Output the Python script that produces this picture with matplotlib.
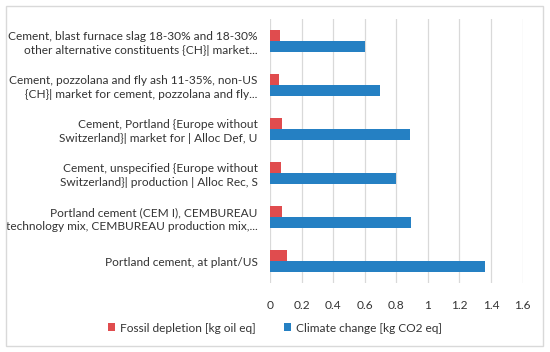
import matplotlib.pyplot as plt
import numpy as np
from matplotlib.patches import Rectangle

plt.rcParams['font.family'] = ['Lato', 'DejaVu Sans']

categories = [
    "Cement, blast furnace slag 18-30% and 18-30%\nother alternative constituents {CH}| market...",
    "Cement, pozzolana and fly ash 11-35%, non-US\n{CH}| market for cement, pozzolana and fly...",
    "Cement, Portland {Europe without\nSwitzerland}| market for | Alloc Def, U",
    "Cement, unspecified {Europe without\nSwitzerland}| production | Alloc Rec, S",
    "Portland cement (CEM I), CEMBUREAU\ntechnology mix, CEMBUREAU production mix,...",
    "Portland cement, at plant/US",
]
fossil = [0.063, 0.055, 0.078, 0.07, 0.074, 0.11]
climate = [0.60, 0.694, 0.889, 0.80, 0.895, 1.363]
xticks = [0, 0.2, 0.4, 0.6, 0.8, 1, 1.2, 1.4, 1.6]
xlabels = ["0", "0.2", "0.4", "0.6", "0.8", "1", "1.2", "1.4", "1.6"]

fig = plt.figure(figsize=(5.5, 3.52), dpi=100)
ax = fig.add_axes([0.491, 0.196, 0.459, 0.75])

y = np.arange(len(categories))
h = 0.26
ax.barh(y - h / 2, fossil, height=h, color='#e04c4e', label='Fossil depletion [kg oil eq]', zorder=3)
ax.barh(y + h / 2, climate, height=h, color='#2580c3', label='Climate change [kg CO2 eq]', zorder=3)

ax.set_ylim(len(categories) - 0.5, -0.5)
ax.set_xlim(0, 1.6)
ax.set_xticks(xticks)
ax.set_xticklabels(xlabels)
ax.set_yticks(y)
ax.set_yticklabels(categories, ha='right', multialignment='right', linespacing=1.35)
ax.tick_params(axis='both', length=0, labelsize=8.6, colors='#333333')
ax.tick_params(axis='y', pad=9)
ax.tick_params(axis='x', pad=12)
ax.grid(axis='x', color='#d9d9d9', linewidth=0.9, zorder=0)
for s in ax.spines.values():
    s.set_visible(False)

fig.legend(loc='center', bbox_to_anchor=(0.5, 1 - 328 / 352), ncol=2, frameon=False,
           fontsize=8.6, handlelength=0.6, handleheight=0.6, handletextpad=0.4,
           columnspacing=2.4, labelcolor='#333333')

fig.patches.append(Rectangle((6 / 550, 6 / 352), 537 / 550, 340 / 352, transform=fig.transFigure,
                             fill=False, edgecolor='#d9d9d9', linewidth=1))

fig.savefig('out.png', dpi=100)
